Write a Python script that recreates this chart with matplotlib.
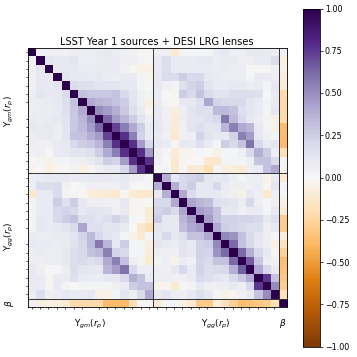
#!/bin/python3

import numpy as np
import matplotlib.pyplot as plt

# upper triangles, row by row
gm_gm = [
    [1, .04, .05, .05, .04, .06, .07, .07, .08, .09, .07, .06, .04, -.01, -.02],
    [1, .12, .10, .10, .12, .07, .07, .07, .08, .08, .05, .05, .03, -.01],
    [1, .10, .10, .10, .08, .07, .08, .09, .09, .04, -.01, -.05, -.06],
    [1, .12, .10, .10, .09, .10, .07, .06, .08, .08, .03, -.02],
    [1, .18, .15, .15, .13, .13, .13, .10, .10, .03, .00],
    [1, .30, .28, .28, .28, .30, .20, .12, .04, .03],
    [1, .40, .35, .33, .30, .25, .13, .05, -.06],
    [1, .50, .45, .38, .28, .15, .08, -.03],
    [1, .62, .45, .35, .25, .14, .05],
    [1, .72, .55, .40, .25, .08],
    [1, .78, .55, .22, .08],
    [1, .78, .45, .20],
    [1, .78, .45],
    [1, .78],
    [1],
]

gg_gg = [
    [1, .38, .10, .20, .22, .25, .12, .10, .12, .06, .03, .06, .06, -.04, .08],
    [1, .38, .20, .25, .10, .10, .20, .08, .05, .06, .05, .07, -.03, .12],
    [1, .40, .18, .10, .10, .10, .07, .04, -.05, .10, .04, -.12, .06],
    [1, .42, .35, .32, .15, .14, .12, .07, .20, .05, .02, .05],
    [1, .45, .40, .30, .10, .10, .04, .08, .08, .03, .10],
    [1, .45, .30, .23, .23, .22, .22, .20, .10, .16],
    [1, .40, .25, .22, .20, .16, .16, .05, .10],
    [1, .52, .48, .30, .18, .12, .05, .02],
    [1, .62, .30, .20, .10, .06, -.05],
    [1, .62, .38, .20, .10, -.02],
    [1, .65, .28, .06, .04],
    [1, .40, .20, .08],
    [1, .75, .30],
    [1, .50],
    [1],
]

# rows are gm bins, columns are gg bins
gm_gg = [
    [.06, .06, -.12, .03, .03, .03, .03, .08, .10, .06, .06, .09, .09, .08, .07],
    [.08, .17, .08, .08, .08, .10, .10, .07, .08, .08, .05, .05, .08, .08, .17],
    [.10, .17, .08, .08, .08, .08, .08, .07, .08, .07, .07, .01, .01, -.02, .05],
    [.10, .18, .18, .25, .20, .20, .10, .08, .07, .07, .07, .02, .08, .08, .07],
    [.10, .04, .03, .15, .22, .25, .12, .08, .08, .10, .10, .06, .08, .03, .10],
    [.08, .00, -.02, .25, .20, .30, .18, .13, .14, .17, .17, .17, .15, .00, .08],
    [.08, .03, -.01, .10, .10, .15, .42, .22, .20, .20, .20, .12, .08, .03, .08],
    [.10, .05, -.08, .05, .13, .15, .15, .33, .33, .30, .15, .12, .08, .02, .10],
    [.10, .04, -.10, .06, .12, .12, .15, .20, .58, .33, .20, .10, .07, .03, -.05],
    [.10, .05, -.10, .04, .12, .15, .12, .13, .35, .55, .40, .35, .10, .03, -.05],
    [.08, .04, -.12, .04, .05, .22, .14, .10, .10, .22, .55, .45, .10, .05, .02],
    [.10, .08, -.03, .10, .08, .15, .08, .02, .25, .20, .30, .60, .20, .08, .12],
    [.05, .02, -.10, -.03, -.03, .02, .00, -.05, .02, .02, .05, .20, .38, .25, .06],
    [.04, .00, -.12, -.02, -.01, .00, -.12, -.12, .03, .03, .03, .06, .30, .30, .18],
    [.02, .02, -.12, .00, -.10, -.10, -.20, .02, -.07, -.08, -.10, .06, .08, .30, .40],
]

beta_gm = [.04, -.07, -.05, -.08, -.10, -.22, -.22, -.22, -.22, -.38, -.38, -.38, -.20, .02, -.03]
beta_gg = [-.10, .02, .02, -.06, -.10, -.30, -.30, -.08, -.17, -.27, -.37, -.35, -.32, -.29, -.18]

n_bins = len(gm_gm)
n_total = 2 * n_bins + 1


def symmetric(rows):
    block = np.zeros((n_bins, n_bins))
    for i, row in enumerate(rows):
        block[i, i:] = row
        block[i:, i] = row
    return block


corr = np.ones((n_total, n_total))
corr[:n_bins, :n_bins] = symmetric(gm_gm)
corr[n_bins:2 * n_bins, n_bins:2 * n_bins] = symmetric(gg_gg)
corr[:n_bins, n_bins:2 * n_bins] = gm_gg
corr[n_bins:2 * n_bins, :n_bins] = np.array(gm_gg).T
corr[-1, :-1] = beta_gm + beta_gg
corr[:-1, -1] = beta_gm + beta_gg

fig = plt.figure(figsize=(3.57, 3.57), dpi=100)
ax = fig.add_axes([27.5 / 357, 1 - 307 / 357, 259.5 / 357, 259 / 357])
im = ax.imshow(corr, cmap='PuOr', vmin=-1, vmax=1, aspect='auto', interpolation='nearest')

for pos in (n_bins - 0.5, 2 * n_bins - 0.5):
    ax.axhline(pos, color='#333333', lw=0.7)
    ax.axvline(pos, color='#333333', lw=0.7)

# one small tick per bin, labels sit at the middle of each group
centres = [(n_bins - 1) / 2, n_bins + (n_bins - 1) / 2, 2 * n_bins]
x_labels = [r'$\Upsilon_{gm}(r_p)$', r'$\Upsilon_{gg}(r_p)$', r'$\beta$']
ax.set_xticks(centres, x_labels, fontsize=6.4)
ax.set_yticks(centres, x_labels, fontsize=6.4, rotation=90, va='center')
ax.tick_params(axis='x', which='major', length=0, pad=7.5)
ax.tick_params(axis='y', which='major', length=0, pad=8.5)
ax.set_xticks(np.arange(n_total), minor=True)
ax.set_yticks(np.arange(n_total), minor=True)
ax.tick_params(which='minor', length=1.5, width=0.5)
for spine in ax.spines.values():
    spine.set_linewidth(0.6)
ax.set_title('LSST Year 1 sources + DESI LRG lenses', fontsize=7.1, pad=2.5)

cax = fig.add_axes([302.7 / 357, 1 - 346.5 / 357, 17.3 / 357, 338 / 357])
cbar = fig.colorbar(im, cax=cax, ticks=[-1, -.75, -.5, -.25, 0, .25, .5, .75, 1])
cbar.ax.set_yticklabels(['%.2f' % v if v >= 0 else '\u2212%.2f' % -v for v in cbar.get_ticks()])
cbar.ax.tick_params(labelsize=5.8, length=2, width=0.5, pad=1.5)
cbar.outline.set_linewidth(0.6)

plt.savefig('out.png', dpi=100)
